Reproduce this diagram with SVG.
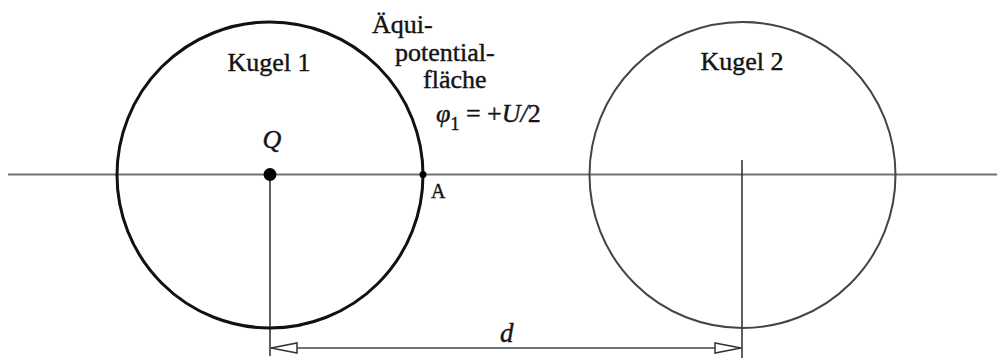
<svg xmlns="http://www.w3.org/2000/svg" width="997" height="360" viewBox="0 0 997 360">
<style>
text{font-family:'Liberation Serif','DejaVu Serif',serif;fill:#141414;stroke:#141414;stroke-width:0.4}
.i{font-style:italic}
.axis{stroke:#6b7676;stroke-width:2;fill:none}
.v{stroke:#2a2a2a;stroke-width:1.5;fill:none}
</style>
<defs>
<marker id="arr" viewBox="0 0 28 12" refX="27" refY="6" markerWidth="28" markerHeight="12" markerUnits="userSpaceOnUse" orient="auto-start-reverse">
<path d="M1,1 L27,6 L1,11 Z" fill="#fff" stroke="#333" stroke-width="1.5"/>
</marker>
</defs>
<rect width="997" height="360" fill="#fff"/>
<g id="connectors">
<line class="axis" x1="8" y1="174.5" x2="997" y2="174.5"/>
<line class="v" x1="270" y1="175" x2="270" y2="356"/>
<line class="v" x1="742" y1="160" x2="742" y2="358"/>
<line class="axis" x1="271" y1="348" x2="741" y2="348" marker-start="url(#arr)" marker-end="url(#arr)"/>
</g>
<g id="kugel1">
<circle cx="270" cy="175" r="153" fill="none" stroke="#111" stroke-width="3"/>
<text x="269" y="71" font-size="26" text-anchor="middle">Kugel 1</text>
</g>
<g id="kugel2">
<circle cx="742.5" cy="175" r="153" fill="none" stroke="#444" stroke-width="2"/>
<text x="742" y="70" font-size="26" text-anchor="middle">Kugel 2</text>
</g>
<g id="Q">
<circle cx="270" cy="174.5" r="6.5" fill="#000"/>
<text class="i" x="272" y="148" font-size="26" text-anchor="middle">Q</text>
</g>
<g id="A">
<circle cx="423" cy="174.5" r="3.5" fill="#000"/>
<text x="431" y="198" font-size="20">A</text>
</g>
<g id="label">
<text x="372" y="33" font-size="26">Äqui-</text>
<text x="395" y="61" font-size="26">potential-</text>
<text x="423" y="88" font-size="26">fläche</text>
<text x="436" y="122" font-size="26"><tspan class="i">φ</tspan><tspan font-size="18" dy="8">1</tspan><tspan dy="-8"> = +</tspan><tspan class="i">U/</tspan>2</text>
</g>
<g id="d">
<text class="i" x="500" y="342" font-size="27">d</text>
</g>
</svg>
